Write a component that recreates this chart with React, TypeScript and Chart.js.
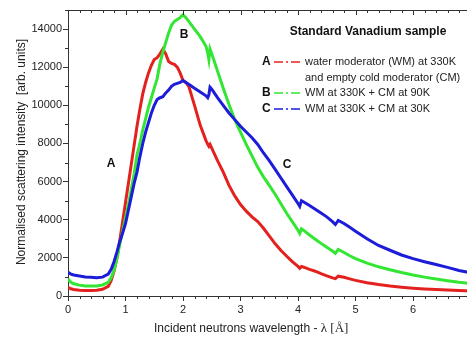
import React, { useEffect, useRef } from 'react';
import { Chart, registerables } from 'chart.js';
Chart.register(...registerables);

const wavelength = [0, 0.05, 0.1, 0.2, 0.3, 0.4, 0.5, 0.6, 0.7,
  0.75, 0.8, 0.85, 0.9, 0.95, 1.0, 1.05, 1.1, 1.15, 1.2,
  1.25, 1.3, 1.35, 1.4, 1.45, 1.5, 1.55, 1.6, 1.65, 1.7,
  1.75, 1.8, 1.85, 1.9, 1.95, 2.0, 2.05, 2.1,
  2.2, 2.3, 2.4,
  2.43, 2.45, 2.47,
  2.5,
  2.6, 2.7, 2.8, 2.9, 3.0, 3.1, 3.2, 3.3, 3.4, 3.5, 3.6, 3.7, 3.8, 3.9, 4.0,
  4.03, 4.06,
  4.1, 4.2, 4.3, 4.4, 4.5, 4.6,
  4.65, 4.7,
  4.8, 4.9, 5.0,
  5.2, 5.4, 5.6, 5.8, 6.0, 6.2, 6.4, 6.6, 6.8, 7.0];

const seriesA = [450, 380, 340, 300, 285, 285, 300, 350, 500,
  800, 1300, 2000, 2900, 3900, 4900, 5900, 6900, 7900, 8900,
  9800, 10600, 11200, 11700, 12100, 12400, 12500, 12700, 12950, 12700,
  12300, 12200, 12150, 12000, 11700, 11300, 11200, 11000,
  10000, 8950, 8150,
  7950, 7850, 7950,
  7750,
  7100, 6500, 5800, 5250, 4800, 4450, 4150, 3900, 3550, 3150, 2750, 2400, 2100, 1800, 1550,
  1450, 1550,
  1510, 1400, 1300, 1170, 1060, 950,
  910, 1040,
  980, 900, 820,
  700, 600, 520, 460, 410, 370, 340, 310, 285, 265];

const seriesB = [900, 720, 640, 570, 530, 520, 530, 580, 720,
  950, 1350, 1950, 2700, 3400, 4100, 4800, 5600, 6400, 7400,
  8000, 8700, 9300, 9900, 10400, 10900, 11400, 12200, 12800, 13300,
  13800, 14200, 14400, 14500, 14600, 14750, 14600, 14400,
  14000, 13600, 13100,
  12750, 12400, 12950,
  12700,
  11800, 10900, 10050, 9250, 8600, 7950, 7350, 6750, 6250, 5800, 5350, 4850, 4350, 3900, 3450,
  3280, 3520,
  3440, 3200, 2980, 2760, 2560, 2360,
  2240, 2440,
  2280, 2110, 1960,
  1720, 1530, 1380, 1230, 1100, 990, 890, 800, 720, 660];

const seriesC = [1250, 1150, 1100, 1050, 1000, 980, 960, 990, 1150,
  1400, 1800, 2300, 2850, 3300, 3800, 4500, 5200, 5900, 6500,
  7300, 8000, 8600, 9100, 9600, 10000, 10300, 10400, 10450, 10650,
  10800, 11000, 11100, 11150, 11200, 11300, 11200, 11100,
  10900, 10700, 10500,
  10400, 10550, 10950,
  10850,
  10400, 10000, 9600, 9250, 8900, 8600, 8300, 7950, 7500, 7100, 6650, 6200, 5750, 5300, 4850,
  4700, 5000,
  4930, 4750, 4550, 4350, 4150, 3900,
  3750, 3960,
  3800, 3600, 3400,
  3000, 2650, 2400, 2150, 1960, 1800, 1650, 1500, 1340, 1220];

const xTicks = [0, 1, 2, 3, 4, 5, 6];
const yTicks = [0, 2000, 4000, 6000, 8000, 10000, 12000, 14000];

const seriesLetters = ['A', 'B', 'C'];
const legendLines = [
  ['water moderator (WM) at 330K', 'and empty cold moderator (CM)'],
  ['WM at 330K + CM at 90K'],
  ['WM at 330K + CM at 30K'],
];
const seriesColors = ['#e3211e', '#33e633', '#1c1cd9'];

const chartTitle = 'Standard Vanadium sample';
const yTitle = 'Normalised scattering intensity  [arb. units]';
const xTitleMain = 'Incident neutrons wavelength - ';
const xTitleUnit = 'λ [Å]';

const SANS = "Arial, 'Liberation Sans', sans-serif";
const SERIF = "'Times New Roman', 'Liberation Serif', serif";
const AXIS = '#333333';

const decorations = {
  id: 'decorations',
  afterDraw(chart: any) {
    const { ctx, chartArea: ca, scales } = chart;
    const xs = scales.x;
    const ys = scales.y;
    ctx.save();
    ctx.strokeStyle = AXIS;
    ctx.lineWidth = 1;
    ctx.beginPath();
    ctx.moveTo(ca.left, ca.top + 0.5);
    ctx.lineTo(ca.right, ca.top + 0.5);
    ctx.stroke();
    ctx.beginPath();
    for (let i = 0; i <= 35; i++) {
      const v = i * 0.2;
      const px = Math.round(xs.getPixelForValue(v)) + 0.5;
      const major = i % 5 === 0;
      if (!major) {
        ctx.moveTo(px, ca.bottom);
        ctx.lineTo(px, ca.bottom + 3);
      }
      ctx.moveTo(px, ca.top);
      ctx.lineTo(px, ca.top + (major ? 5 : 3));
    }
    for (let i = 1; i <= 15; i += 2) {
      const py = Math.round(ys.getPixelForValue(i * 1000)) + 0.5;
      ctx.moveTo(ca.left, py);
      ctx.lineTo(ca.left - 3, py);
    }
    ctx.stroke();

    ctx.fillStyle = '#111';
    ctx.textBaseline = 'middle';
    ctx.font = `bold 12px ${SANS}`;
    ctx.textAlign = 'center';
    ctx.fillText(chartTitle, 368, 32);

    const rowsY = [[62, 77.5], [93], [109]];
    for (let s = 0; s < 3; s++) {
      const ry = rowsY[s][0];
      ctx.font = `bold 12px ${SANS}`;
      ctx.textAlign = 'left';
      ctx.fillStyle = '#111';
      ctx.fillText(seriesLetters[s], 262, ry);
      ctx.strokeStyle = seriesColors[s];
      ctx.lineWidth = 1.5;
      ctx.setLineDash([9, 3, 2, 3]);
      ctx.beginPath();
      ctx.moveTo(274, ry);
      ctx.lineTo(302, ry);
      ctx.stroke();
      ctx.setLineDash([]);
      ctx.font = `11px ${SANS}`;
      ctx.fillStyle = '#222';
      legendLines[s].forEach((t, k) => ctx.fillText(t, 305, rowsY[s][k]));
    }

    ctx.font = `bold 12px ${SANS}`;
    ctx.textAlign = 'center';
    ctx.fillStyle = '#111';
    ctx.fillText(seriesLetters[0], 111, 164);
    ctx.fillText(seriesLetters[1], 184, 35);
    ctx.fillText(seriesLetters[2], 287, 165);

    ctx.save();
    ctx.translate(22, 152);
    ctx.rotate(-Math.PI / 2);
    ctx.font = `12px ${SANS}`;
    ctx.fillStyle = '#222';
    ctx.textAlign = 'center';
    ctx.fillText(yTitle, 0, 0);
    ctx.restore();

    ctx.textAlign = 'left';
    ctx.fillStyle = '#222';
    ctx.font = `12px ${SANS}`;
    ctx.fillText(xTitleMain, 154, 329);
    const w = ctx.measureText(xTitleMain).width;
    ctx.font = `13px ${SERIF}`;
    ctx.fillText(xTitleUnit, 154 + w, 329);
    ctx.restore();
  },
};

export default function App() {
  const ref = useRef<HTMLCanvasElement | null>(null);
  useEffect(() => {
    if (!ref.current) return;
    const sets = [seriesA, seriesB, seriesC];
    const chart = new Chart(ref.current, {
      type: 'line',
      data: {
        datasets: sets.map((s, i) => ({
          label: seriesLetters[i],
          data: wavelength.map((x, k) => ({ x, y: s[k] })),
          borderColor: seriesColors[i],
          borderWidth: 3,
          pointRadius: 0,
          tension: 0,
          fill: false,
          order: 3 - i,
        })),
      },
      options: {
        responsive: false,
        animation: false,
        events: [],
        layout: { padding: { top: 10, right: 9.5, left: 0, bottom: 0 } },
        plugins: { legend: { display: false }, tooltip: { enabled: false } },
        scales: {
          x: {
            type: 'linear',
            min: 0,
            max: 7,
            afterBuildTicks: (s: any) => { s.ticks = xTicks.map((v) => ({ value: v })); },
            afterFit: (s: any) => { s.height = 41; },
            grid: { display: true, drawOnChartArea: false, drawTicks: true, tickLength: 5, color: AXIS },
            border: { display: true, color: AXIS, width: 1 },
            ticks: { font: { family: SANS, size: 11 }, color: '#222', padding: 2, maxRotation: 0, callback: (v: any) => String(v) },
          },
          y: {
            type: 'linear',
            min: 0,
            max: 15000,
            afterBuildTicks: (s: any) => { s.ticks = yTicks.map((v) => ({ value: v })); },
            afterFit: (s: any) => { s.width = 68; },
            grid: { display: true, drawOnChartArea: false, drawTicks: true, tickLength: 5, color: AXIS },
            border: { display: true, color: AXIS, width: 1 },
            ticks: { font: { family: SANS, size: 11 }, color: '#222', padding: 1, callback: (v: any) => String(v) },
          },
        },
      },
      plugins: [decorations],
    });
    return () => chart.destroy();
  }, []);
  return (
    <div style={{ position: 'absolute', left: 0, top: 0, width: 467, height: 337, overflow: 'hidden', background: '#fff' }}>
      <canvas ref={ref} width={480} height={337} style={{ width: 480, height: 337, display: 'block' }} />
    </div>
  );
}
